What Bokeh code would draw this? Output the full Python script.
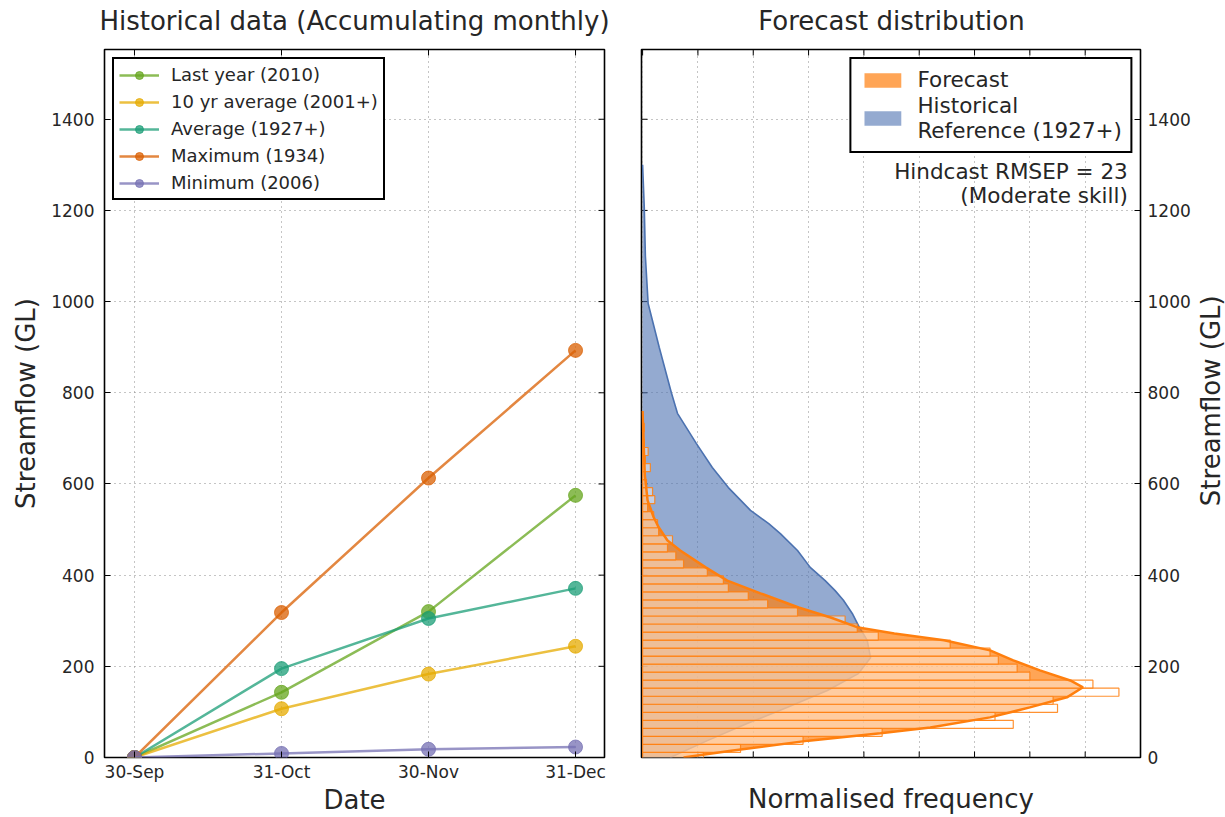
import numpy as np
from bokeh.plotting import figure
from bokeh.layouts import row, column
from bokeh.models import (FixedTicker, Range1d, Legend, LegendItem, Label)
from bokeh.core.properties import value
from bokeh.embed import file_html
from bokeh.resources import INLINE

# ---------------- data ----------------
date_labels = ["30-Sep", "31-Oct", "30-Nov", "31-Dec"]
date_pos = [0, 1, 2, 3]
last_year = [0, 143, 320, 575]
ten_yr_avg = [0, 107, 183, 244]
average_1927 = [0, 195, 305, 371]
maximum_1934 = [0, 318, 613, 893]
minimum_2006 = [0, 9, 18, 23]
series_names = ["Last year (2010)", "10 yr average (2001+)", "Average (1927+)",
                "Maximum (1934)", "Minimum (2006)"]
panel_titles = ["Historical data (Accumulating monthly)", "Forecast distribution"]

# forecast histogram (bin edges in GL, normalised frequency)
hist_edges = [-6.4, 11.2, 28.8, 46.4, 64.0, 81.6, 99.2, 116.8, 134.4, 152.0, 169.6,
              187.2, 204.8, 222.4, 240.0, 257.6, 275.2, 292.8, 310.4, 328.0, 345.6,
              363.2, 380.8, 398.4, 416.0, 433.6, 451.2, 468.8, 486.4, 504.0, 521.6,
              539.2, 556.8, 574.4, 592.0, 609.6, 627.2, 644.8, 662.4, 680.0, 697.6,
              715.2, 732.8]
hist_freq = [1.10, 1.77, 2.90, 4.33, 6.70, 6.37, 7.50, 7.42, 8.61, 8.14,
             7.00, 6.77, 6.43, 6.28, 5.56, 4.26, 3.88, 3.66, 2.80, 2.26,
             1.91, 1.55, 1.46, 1.17, 0.74, 0.60, 0.45, 0.54, 0.29, 0.27,
             0.20, 0.09, 0.22, 0.18, 0.07, 0.05, 0.14, 0.05, 0.10, 0.03,
             0.02, 0.03]

# forecast density curve
fc_y = [0, 15, 37, 53, 66, 88, 110, 132, 154, 169, 191, 213, 235, 257, 272, 285,
        307, 329, 360, 388, 417, 454, 476, 505, 527, 564, 620, 700, 760]
fc_x = [0.74, 1.60, 3.00, 4.30, 5.20, 6.28, 7.00, 7.67, 7.96, 7.73, 7.18, 6.70, 6.28,
        5.45, 4.55, 3.90, 3.40, 2.82, 2.13, 1.53, 1.14, 0.68, 0.45, 0.29, 0.20, 0.09,
        0.04, 0.015, 0.0]

# historical reference density curve
ref_y = [0, 37, 75, 110, 147, 184, 219, 257, 290, 316, 345, 366, 388, 417, 454, 491,
         513, 542, 592, 636, 689, 755, 800, 900, 996, 1100, 1207, 1300]
ref_x = [0.50, 1.17, 1.90, 2.62, 3.34, 3.90, 4.12, 4.06, 3.90, 3.79, 3.63, 3.48, 3.30,
         3.03, 2.80, 2.49, 2.28, 1.95, 1.55, 1.26, 0.97, 0.63, 0.52, 0.30, 0.10, 0.05,
         0.03, 0.0]

y_ticks = [0, 200, 400, 600, 800, 1000, 1200, 1400]
freq_ticks = [0, 1, 2, 3, 4, 5, 6, 7, 8, 9]

# ---------------- styling / layout constants ----------------
FONT = "DejaVu Sans"
TXT = "#262626"
colors = ["#66a61e", "#e6ab02", "#1b9e77", "#d95f02", "#7570b3"]
PAGE_W, PAGE_H = 1225, 817
STRIP_H = 47                 # title strip
TOP, BOT = 2, 60             # borders of the chart figures
MAIN_H = PAGE_H - STRIP_H
FRAME_W, FRAME_H = 500, MAIN_H - TOP - BOT
L1_LEFT, L1_RIGHT = 104, 18
L2_LEFT, L2_RIGHT = 19, 52
RSTRIP_W = PAGE_W - (L1_LEFT + FRAME_W + L1_RIGHT) - (L2_LEFT + FRAME_W + L2_RIGHT)
YMAX = 1553
TICK_PX = 6


def style_axis(ax, tick_px="17px", label_px="26px"):
    ax.major_tick_in = TICK_PX
    ax.major_tick_out = 0
    ax.minor_tick_in = 0
    ax.minor_tick_out = 0
    ax.axis_line_color = None
    ax.major_tick_line_color = "black"
    ax.major_label_text_font = FONT
    ax.major_label_text_font_size = tick_px
    ax.major_label_text_color = TXT
    ax.axis_label_text_font = FONT
    ax.axis_label_text_font_size = label_px
    ax.axis_label_text_font_style = "normal"
    ax.axis_label_text_color = TXT


def edge_ticks(p, side, ticks, xr, yr):
    """inward tick marks on a frame side that has no labelled axis"""
    if side in ("above", "below"):
        L = TICK_PX / FRAME_H * (yr[1] - yr[0])
        y0 = yr[1] if side == "above" else yr[0]
        y1 = y0 - L if side == "above" else y0 + L
        p.segment(x0=ticks, x1=ticks, y0=[y0] * len(ticks), y1=[y1] * len(ticks),
                  line_color="black", line_width=1)
    else:
        L = TICK_PX / FRAME_W * (xr[1] - xr[0])
        x0 = xr[1] if side == "right" else xr[0]
        x1 = x0 - L if side == "right" else x0 + L
        p.segment(x0=[x0] * len(ticks), x1=[x1] * len(ticks), y0=ticks, y1=ticks,
                  line_color="black", line_width=1)


def style_fig(p):
    p.outline_line_color = "black"
    p.outline_line_width = 1.6
    p.outline_line_alpha = 1
    p.background_fill_color = "white"
    p.border_fill_color = "white"
    for g in (p.xgrid[0], p.ygrid[0]):
        g.grid_line_color = "#8a8a8a"
        g.grid_line_dash = "1 4"
        g.grid_line_width = 1


def strip(w, h):
    s = figure(width=w, height=h, x_range=Range1d(0, w), y_range=Range1d(0, h),
               output_backend="svg", toolbar_location=None, min_border=0,
               x_axis_type=None, y_axis_type=None)
    s.outline_line_color = None
    s.background_fill_color = "white"
    s.border_fill_color = "white"
    return s


# ---------------- title strip ----------------
top = strip(PAGE_W, STRIP_H)
title_x = [L1_LEFT + FRAME_W / 2, L1_LEFT + FRAME_W + L1_RIGHT + L2_LEFT + FRAME_W / 2]
top.text(x=title_x, y=[STRIP_H - 20] * 2, text=panel_titles, text_align="center",
         text_baseline="middle", text_font=value(FONT), text_font_size="26px",
         text_color=TXT)

# ---------------- left: historical ----------------
xr1 = (-0.204, 3.197)
yr = (0, YMAX)
p1 = figure(width=L1_LEFT + FRAME_W + L1_RIGHT, height=MAIN_H, x_range=Range1d(*xr1),
            y_range=Range1d(*yr), output_backend="svg", toolbar_location=None,
            min_border_left=L1_LEFT, min_border_right=L1_RIGHT, min_border_top=TOP,
            min_border_bottom=BOT)
style_fig(p1)
xt = FixedTicker(ticks=date_pos)
yt = FixedTicker(ticks=y_ticks)
p1.xaxis.ticker = xt
p1.xgrid.ticker = xt
p1.yaxis.ticker = yt
p1.ygrid.ticker = yt
p1.xaxis.major_label_overrides = {i: l for i, l in zip(date_pos, date_labels)}
p1.xaxis.axis_label = "Date"
p1.yaxis.axis_label = "Streamflow (GL)"
style_axis(p1.xaxis[0])
style_axis(p1.yaxis[0])
p1.xaxis.major_label_standoff = 4
p1.xaxis.axis_label_standoff = 0
p1.yaxis.major_label_standoff = 10
p1.yaxis.axis_label_standoff = 7
edge_ticks(p1, "right", y_ticks, xr1, yr)
edge_ticks(p1, "above", date_pos, xr1, yr)

items = []
for name, vals, col in zip(series_names,
                           [last_year, ten_yr_avg, average_1927, maximum_1934, minimum_2006],
                           colors):
    rl = p1.line(date_pos, vals, line_color=col, line_width=2.5, line_alpha=0.75)
    rs = p1.scatter(date_pos, vals, size=14, fill_color=col, line_color=col,
                    fill_alpha=0.75, line_alpha=0.75)
    items.append(LegendItem(label=name, renderers=[rl, rs]))

leg1 = Legend(items=items, location="top_left", margin=8, padding=5, spacing=6,
              glyph_width=40, glyph_height=20, label_height=20, label_standoff=12,
              label_text_font=FONT, label_text_font_size="18px", label_text_color=TXT,
              border_line_color="black", border_line_width=2, border_line_alpha=1,
              background_fill_alpha=1)
p1.add_layout(leg1)

# ---------------- right: forecast distribution ----------------
xr2 = (-0.02, 9.0)
p2 = figure(width=L2_LEFT + FRAME_W + L2_RIGHT, height=MAIN_H, x_range=Range1d(*xr2),
            y_range=Range1d(*yr), output_backend="svg", toolbar_location=None,
            y_axis_location="right",
            min_border_left=L2_LEFT, min_border_right=L2_RIGHT, min_border_top=TOP,
            min_border_bottom=BOT)
style_fig(p2)
ft = FixedTicker(ticks=freq_ticks)
yt2 = FixedTicker(ticks=y_ticks)
p2.xaxis.ticker = FixedTicker(ticks=[])
p2.xgrid.ticker = ft
p2.yaxis.ticker = yt2
p2.ygrid.ticker = yt2
p2.xaxis.axis_label = "Normalised frequency"
style_axis(p2.xaxis[0])
style_axis(p2.yaxis[0])
p2.xaxis.major_label_standoff = 0
p2.xaxis.axis_label_standoff = 26
p2.yaxis.major_label_standoff = 7
edge_ticks(p2, "left", y_ticks, xr2, yr)
edge_ticks(p2, "above", freq_ticks, xr2, yr)
edge_ticks(p2, "below", freq_ticks, xr2, yr)

ref_area = p2.harea(y=ref_y, x1=0, x2=ref_x, fill_color="#4c72b0", fill_alpha=0.6)
p2.line(ref_x, ref_y, line_color="#4c72b0", line_width=1.6)
fc_area = p2.harea(y=fc_y, x1=0, x2=fc_x, fill_color="#ff7f0e", fill_alpha=0.7)
p2.quad(left=0, right=hist_freq, bottom=hist_edges[:-1], top=hist_edges[1:],
        fill_color="white", fill_alpha=0.44, line_color="#ff7f0e", line_width=1.2,
        line_alpha=0.85)
p2.line(fc_x, fc_y, line_color="#ff7f0e", line_width=2.5)

leg2 = Legend(items=[LegendItem(label="Forecast", renderers=[fc_area]),
                     LegendItem(label="Historical\nReference (1927+)", renderers=[ref_area])],
              location="top_right", margin=8, padding=8, spacing=1,
              glyph_width=46, glyph_height=18, label_height=24, label_standoff=12,
              label_text_font=FONT, label_text_font_size="21.5px", label_text_color=TXT,
              border_line_color="black", border_line_width=2, border_line_alpha=1,
              background_fill_alpha=1)
p2.add_layout(leg2)

p2.add_layout(Label(x=8.77, y=1259, text="Hindcast RMSEP = 23", text_align="right",
                    text_font=FONT, text_font_size="21.5px", text_color=TXT))
p2.add_layout(Label(x=8.77, y=1206, text="(Moderate skill)", text_align="right",
                    text_font=FONT, text_font_size="21.5px", text_color=TXT))

# ---------------- right-hand axis title strip (reads bottom-to-top) ----------------
rs_fig = strip(RSTRIP_W, MAIN_H)
rs_fig.text(x=[RSTRIP_W / 2 + 1], y=[MAIN_H - (429 - STRIP_H)], text=["Streamflow (GL)"],
            angle=np.pi / 2, text_align="center", text_baseline="middle",
            text_font=value(FONT), text_font_size="26px", text_color=TXT)

layout = column(top, row(p1, p2, rs_fig))
open("out.html", "w").write(file_html(layout, INLINE))
